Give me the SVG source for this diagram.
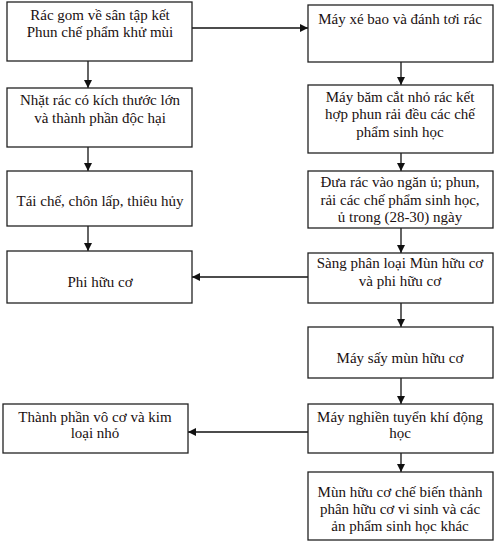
<svg xmlns="http://www.w3.org/2000/svg" width="500" height="546" viewBox="0 0 500 546">
<defs>
<marker id="ah" viewBox="0 0 10 10" refX="10" refY="5" markerWidth="8" markerHeight="8" markerUnits="userSpaceOnUse" orient="auto">
<path d="M0,0 L10,5 L0,10 z" fill="#111"/>
</marker>
</defs>
<style>
.box{fill:#fff;stroke:#222;stroke-width:1.3}
.t{font-family:"Liberation Serif","Times New Roman",serif;font-size:15px;fill:#1a1010;text-anchor:middle}
.c{stroke:#111;stroke-width:1.3;fill:none;marker-end:url(#ah)}
</style>
<rect width="500" height="546" fill="#fff"/>
<g id="connectors">
<line class="c" x1="192" y1="28" x2="308" y2="28"/>
<line class="c" x1="88" y1="61" x2="88" y2="88"/>
<line class="c" x1="88" y1="147" x2="88" y2="171"/>
<line class="c" x1="88" y1="226" x2="88" y2="251"/>
<line class="c" x1="401" y1="62" x2="401" y2="85"/>
<line class="c" x1="401" y1="153" x2="401" y2="171"/>
<line class="c" x1="401" y1="228" x2="401" y2="253"/>
<line class="c" x1="401" y1="303" x2="401" y2="327"/>
<line class="c" x1="401" y1="378" x2="401" y2="404"/>
<line class="c" x1="401" y1="453" x2="401" y2="472"/>
<line class="c" x1="308" y1="277" x2="192" y2="277"/>
<line class="c" x1="308" y1="432" x2="188" y2="432"/>
</g>
<g id="n1"><rect class="box" x="7" y="2" width="185" height="59"/>
<text class="t" x="100" y="20">Rác gom về sân tập kết</text>
<text class="t" x="100" y="37">Phun chế phẩm khử mùi</text></g>
<g id="n2"><rect class="box" x="7" y="88" width="185" height="59"/>
<text class="t" x="100" y="105">Nhặt rác có kích thước lớn</text>
<text class="t" x="100" y="123">và thành phần độc hại</text></g>
<g id="n3"><rect class="box" x="7" y="171" width="185" height="55"/>
<text class="t" x="100" y="206">Tái chế, chôn lấp, thiêu hủy</text></g>
<g id="n4"><rect class="box" x="7" y="251" width="185" height="52"/>
<text class="t" x="100" y="287">Phi hữu cơ</text></g>
<g id="n5"><rect class="box" x="3" y="404" width="185" height="49"/>
<text class="t" x="95" y="422">Thành phần vô cơ và kim</text>
<text class="t" x="95" y="438">loại nhỏ</text></g>
<g id="r1"><rect class="box" x="308" y="5" width="185" height="57"/>
<text class="t" x="400" y="24">Máy xé bao và đánh tơi rác</text></g>
<g id="r2"><rect class="box" x="308" y="85" width="185" height="68"/>
<text class="t" x="400" y="102">Máy băm cắt nhỏ rác kết</text>
<text class="t" x="400" y="119">hợp phun rải đều các chế</text>
<text class="t" x="400" y="137">phẩm sinh học</text></g>
<g id="r3"><rect class="box" x="308" y="171" width="185" height="57"/>
<text class="t" x="400" y="187">Đưa rác vào ngăn ủ; phun,</text>
<text class="t" x="400" y="205">rải các chế phẩm  sinh học,</text>
<text class="t" x="400" y="222">ủ trong (28-30) ngày</text></g>
<g id="r4"><rect class="box" x="308" y="253" width="185" height="50"/>
<text class="t" x="400" y="268">Sàng phân loại Mùn hữu cơ</text>
<text class="t" x="400" y="286">và phi hữu cơ</text></g>
<g id="r5"><rect class="box" x="308" y="327" width="185" height="51"/>
<text class="t" x="400" y="363">Máy sấy mùn hữu cơ</text></g>
<g id="r6"><rect class="box" x="308" y="404" width="185" height="49"/>
<text class="t" x="400" y="422">Máy nghiền tuyển khí động</text>
<text class="t" x="400" y="438">học</text></g>
<g id="r7"><rect class="box" x="308" y="472" width="185" height="68"/>
<text class="t" x="400" y="497">Mùn hữu cơ chế biến thành</text>
<text class="t" x="400" y="514">phân hữu cơ vi sinh và các</text>
<text class="t" x="400" y="531">ản phẩm sinh học khác</text></g>
</svg>
